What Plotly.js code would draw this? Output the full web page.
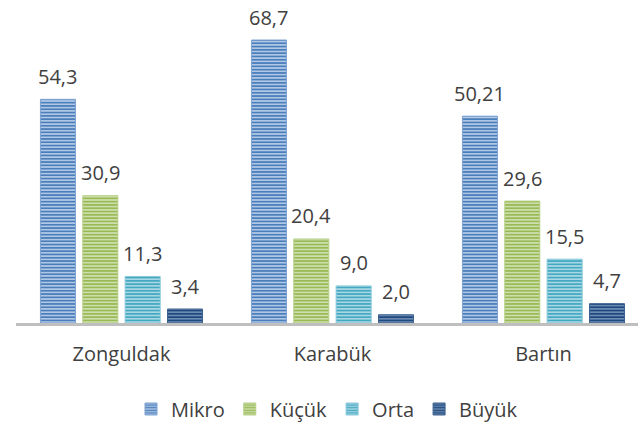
<!DOCTYPE html>
<html>
<head>
<meta charset="utf-8">
<script src="https://cdn.plot.ly/plotly-3.0.1.min.js"></script>
<style>
  html, body { margin: 0; padding: 0; background: #ffffff; }
  #chart { width: 638px; height: 424px; }
</style>
</head>
<body>
<div id="chart"></div>
<script>
// Provinces and firm-size shares (%)
const provinces = ['Zonguldak', 'Karabük', 'Bartın'];
const seriesNames = ['Mikro', 'Küçük', 'Orta', 'Büyük'];
const mikro = [54.3, 68.7, 50.21];
const kucuk = [30.9, 20.4, 29.6];
const orta  = [11.3, 9.0, 15.5];
const buyuk = [3.4, 2.0, 4.7];

const seriesValues = [mikro, kucuk, orta, buyuk];
// main stripe colour, light stripe colour, edge colour
const darkColors  = ['#4a7ebb', '#98b954', '#45a8c2', '#1f497d'];
const lightColors = ['#c9daf0', '#dbe8c4', '#bfe3ec', '#7f9cc2'];
const edgeColors  = ['#7ea3d2', '#b5cf85', '#86c8da', '#3d628f'];

const W = 638, H = 424;
const margin = { l: 16, r: 0, t: 2, b: 101 };
const xRange = [-0.5, 2.448];
const yRange = [0, 77.93];
const bargap = 0.197, bargroupgap = 0.173;

const fontFamily = '"Open Sans", "DejaVu Sans", sans-serif';
const textColor = '#404040';
const fontSize = 20;

// value label in Turkish decimal notation (at least one decimal)
function fmt(v) {
  const s = String(v);
  return (s.indexOf('.') >= 0 ? s : v.toFixed(1)).replace('.', ',');
}

const traces = seriesNames.map((name, i) => ({
  type: 'bar',
  name: name,
  x: provinces,
  y: seriesValues[i],
  marker: {
    color: lightColors[i],
    line: { color: edgeColors[i], width: 1 },
    pattern: {
      shape: '-',
      fgcolor: darkColors[i],
      bgcolor: lightColors[i],
      size: 3.3,
      solidity: 0.6,
      fillmode: 'replace'
    }
  },
  hoverinfo: 'skip'
}));

// value labels sit a little above each bar
const plotW = W - margin.l - margin.r;
const catPx = plotW / (xRange[1] - xRange[0]);
const slotPx = (1 - bargap) * catPx / seriesNames.length;
const annotations = [];
seriesValues.forEach((vals, i) => {
  const dx = (i - (seriesNames.length - 1) / 2) * slotPx;
  vals.forEach((v, j) => {
    annotations.push({
      x: provinces[j], y: v, xref: 'x', yref: 'y',
      text: fmt(v), showarrow: false,
      xanchor: 'center', yanchor: 'middle',
      xshift: dx, yshift: 23,
      font: { family: fontFamily, size: fontSize, color: textColor }
    });
  });
});

const layout = {
  width: W, height: H,
  margin: margin,
  paper_bgcolor: '#ffffff',
  plot_bgcolor: '#ffffff',
  barmode: 'group',
  bargap: bargap,
  bargroupgap: bargroupgap,
  showlegend: true,
  legend: {
    orientation: 'h',
    x: 0.5, xanchor: 'center',
    y: 1 - 409 / H, yref: 'container', yanchor: 'middle',
    font: { family: fontFamily, size: fontSize, color: textColor },
    itemwidth: 30,
    traceorder: 'normal'
  },
  xaxis: {
    type: 'category',
    range: xRange,
    showline: true, linecolor: '#bfbfbf', linewidth: 3,
    showgrid: false, zeroline: false,
    ticks: '', ticklabelstandoff: 11,
    tickfont: { family: fontFamily, size: fontSize, color: textColor },
    fixedrange: true
  },
  yaxis: {
    range: yRange,
    visible: false,
    showgrid: false, zeroline: false,
    fixedrange: true
  },
  annotations: annotations
};

Plotly.newPlot('chart', traces, layout, { displayModeBar: false, staticPlot: true });
</script>
</body>
</html>
